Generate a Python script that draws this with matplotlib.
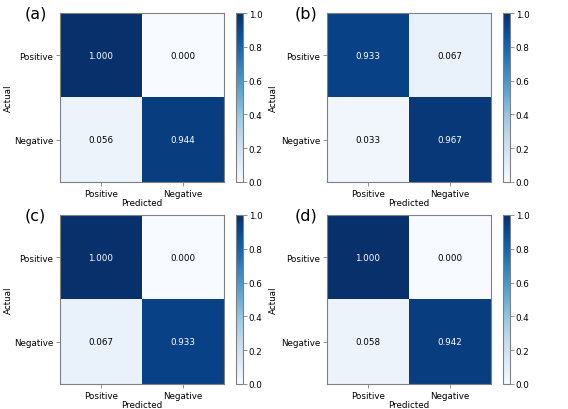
import numpy as np
import matplotlib
matplotlib.use("Agg")
import matplotlib.pyplot as plt

labels = ["Positive", "Negative"]
panels = ["(a)", "(b)", "(c)", "(d)"]
cm_a = [[1.000, 0.000], [0.056, 0.944]]
cm_b = [[0.933, 0.067], [0.033, 0.967]]
cm_c = [[1.000, 0.000], [0.067, 0.933]]
cm_d = [[1.000, 0.000], [0.058, 0.942]]
mats = [cm_a, cm_b, cm_c, cm_d]

W, H = 568, 410
fig = plt.figure(figsize=(W / 100, H / 100), dpi=100)

# pixel boxes (left, top) for heatmap, width 164, height 169
boxes = [(60, 14), (327, 14), (60, 216), (327, 216)]
cbar_x = [236, 503, 236, 503]
ylab_x = [-0.287, -0.299, -0.287, -0.299]
lab_x = [-0.213, -0.195, -0.213, -0.195]
edge = "#808080"
fs = 6.3

for i, m in enumerate(mats):
    x0, y0 = boxes[i]
    ax = fig.add_axes([x0 / W, 1 - (y0 + 169) / H, 164 / W, 169 / H])
    cax = fig.add_axes([cbar_x[i] / W, 1 - (y0 + 169) / H, 7 / W, 169 / H])
    m = np.array(m)
    im = ax.imshow(m, cmap="Blues", vmin=0, vmax=1, aspect="auto")
    for r in range(2):
        for c in range(2):
            v = m[r, c]
            ax.text(c, r, f"{v:.3f}", ha="center", va="center", fontsize=fs,
                    color="white" if v > 0.5 else "black")
    ax.set_xticks([0, 1])
    ax.set_xticklabels(labels, fontsize=fs)
    ax.set_yticks([0, 1])
    ax.set_yticklabels(labels, fontsize=fs)
    ax.set_xlabel("Predicted", fontsize=fs, labelpad=0)
    ax.set_ylabel("Actual", fontsize=fs)
    ax.yaxis.set_label_coords(ylab_x[i], 0.5)
    ax.tick_params(length=3, width=0.6, color=edge, pad=2)
    for s in ax.spines.values():
        s.set_color(edge)
    cb = fig.colorbar(im, cax=cax, ticks=[0, 0.2, 0.4, 0.6, 0.8, 1.0])
    cb.ax.tick_params(labelsize=fs, length=3, width=0.6, color=edge, pad=1)
    cb.ax.set_yticklabels(["0.0", "0.2", "0.4", "0.6", "0.8", "1.0"])
    cb.outline.set_edgecolor(edge)
    ax.text(lab_x[i], 1.0, panels[i], transform=ax.transAxes, fontsize=11.5,
            ha="left", va="center")

fig.savefig("out.png", dpi=100)
